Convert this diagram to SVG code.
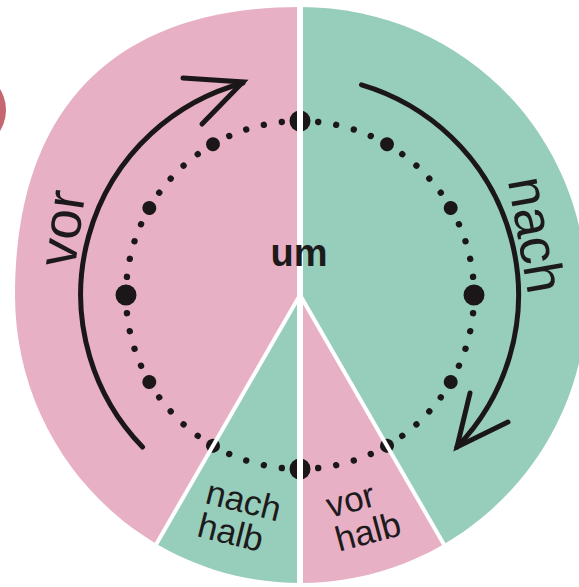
<svg xmlns="http://www.w3.org/2000/svg" width="579" height="587" viewBox="0 0 579 587">
<style>
.pink{fill:#e8b0c5}
.teal{fill:#97cdbb}
.div{stroke:#ffffff;fill:none}
.ink{stroke:#1b1719;stroke-width:5;fill:none;stroke-linecap:round;stroke-linejoin:miter}
.lbl{font-family:"Liberation Sans",Arial,sans-serif;fill:#1d1a1c}
</style>
<defs>
<clipPath id="discclip">
<path d="M300,7 C460.7,7 587,133.7 587,295 C587,454 458.5,583 300,583 C142.6,583 15,454 15,295 C15,107.8 114.8,7 300,7 Z"/>
</clipPath>
<circle id="sd" cx="0" cy="-174" r="3.2"/>
<circle id="md" cx="0" cy="-174" r="7"/>
<circle id="bd" cx="0" cy="-174" r="10.5"/>
</defs>
<rect width="579" height="587" fill="#ffffff"/>
<ellipse cx="-26" cy="110" rx="32" ry="36" fill="#b8404c" opacity="0.8"/>
<g id="disc" clip-path="url(#discclip)">
<polygon id="vor-half" class="pink" points="0,0 300,0 300,295 66,700 0,700"/>
<polygon id="nach-halb-wedge" class="teal" points="300,295 66,700 300,700"/>
<polygon id="vor-halb-wedge" class="pink" points="300,295 300,700 534,700"/>
<polygon id="nach-half" class="teal" points="300,0 620,0 620,700 534,700 300,295"/>
</g>
<g id="dial" transform="translate(300,295)" fill="#1b1719">
<use href="#bd"/><use href="#bd" transform="rotate(90)"/><use href="#bd" transform="rotate(180)"/><use href="#bd" transform="rotate(270)"/>
<use href="#md" transform="rotate(30)"/><use href="#md" transform="rotate(60)"/><use href="#md" transform="rotate(120)"/><use href="#md" transform="rotate(150)"/>
<use href="#md" transform="rotate(210)"/><use href="#md" transform="rotate(240)"/><use href="#md" transform="rotate(300)"/><use href="#md" transform="rotate(330)"/>
<use href="#sd" transform="rotate(6)"/><use href="#sd" transform="rotate(12)"/><use href="#sd" transform="rotate(18)"/><use href="#sd" transform="rotate(24)"/>
<use href="#sd" transform="rotate(36)"/><use href="#sd" transform="rotate(42)"/><use href="#sd" transform="rotate(48)"/><use href="#sd" transform="rotate(54)"/>
<use href="#sd" transform="rotate(66)"/><use href="#sd" transform="rotate(72)"/><use href="#sd" transform="rotate(78)"/><use href="#sd" transform="rotate(84)"/>
<use href="#sd" transform="rotate(96)"/><use href="#sd" transform="rotate(102)"/><use href="#sd" transform="rotate(108)"/><use href="#sd" transform="rotate(114)"/>
<use href="#sd" transform="rotate(126)"/><use href="#sd" transform="rotate(132)"/><use href="#sd" transform="rotate(138)"/><use href="#sd" transform="rotate(144)"/>
<use href="#sd" transform="rotate(156)"/><use href="#sd" transform="rotate(162)"/><use href="#sd" transform="rotate(168)"/><use href="#sd" transform="rotate(174)"/>
<use href="#sd" transform="rotate(186)"/><use href="#sd" transform="rotate(192)"/><use href="#sd" transform="rotate(198)"/><use href="#sd" transform="rotate(204)"/>
<use href="#sd" transform="rotate(216)"/><use href="#sd" transform="rotate(222)"/><use href="#sd" transform="rotate(228)"/><use href="#sd" transform="rotate(234)"/>
<use href="#sd" transform="rotate(246)"/><use href="#sd" transform="rotate(252)"/><use href="#sd" transform="rotate(258)"/><use href="#sd" transform="rotate(264)"/>
<use href="#sd" transform="rotate(276)"/><use href="#sd" transform="rotate(282)"/><use href="#sd" transform="rotate(288)"/><use href="#sd" transform="rotate(294)"/>
<use href="#sd" transform="rotate(306)"/><use href="#sd" transform="rotate(312)"/><use href="#sd" transform="rotate(318)"/><use href="#sd" transform="rotate(324)"/>
<use href="#sd" transform="rotate(336)"/><use href="#sd" transform="rotate(342)"/><use href="#sd" transform="rotate(348)"/><use href="#sd" transform="rotate(354)"/>
</g>
<g id="dividers">
<line class="div" x1="300" y1="0" x2="300" y2="587" stroke-width="6"/>
<line class="div" x1="300" y1="295" x2="150" y2="555" stroke-width="4"/>
<line class="div" x1="300" y1="295" x2="450" y2="555" stroke-width="4"/>
</g>
<g id="connectors">
<g id="arrow-vor">
<path class="ink" d="M142.5,447 A219,219 0 0 1 243,83"/>
<path class="ink" d="M183,78 L243,82 L202,124"/>
</g>
<g id="arrow-nach">
<path class="ink" d="M361.5,84.8 A219,219 0 0 1 457,447"/>
<path class="ink" d="M470,393 L457,447 L508,422"/>
</g>
</g>
<g id="label-vor"><text class="lbl" font-size="55" text-anchor="middle" transform="translate(80,231) rotate(-82)">vor</text></g>
<g id="label-nach"><text class="lbl" font-size="54" text-anchor="middle" transform="translate(518,238) rotate(80)">nach</text></g>
<g id="label-um"><text class="lbl" font-size="38" font-weight="bold" text-anchor="middle" x="299" y="266">um</text></g>
<g id="label-nach-halb" transform="translate(204,503) rotate(14)"><text class="lbl" font-size="35" x="0" y="0">nach</text><text class="lbl" font-size="35" x="0" y="34">halb</text></g>
<g id="label-vor-halb" transform="translate(330,518) rotate(-15)"><text class="lbl" font-size="35" x="0" y="0">vor</text><text class="lbl" font-size="35" x="0" y="35">halb</text></g>
</svg>
